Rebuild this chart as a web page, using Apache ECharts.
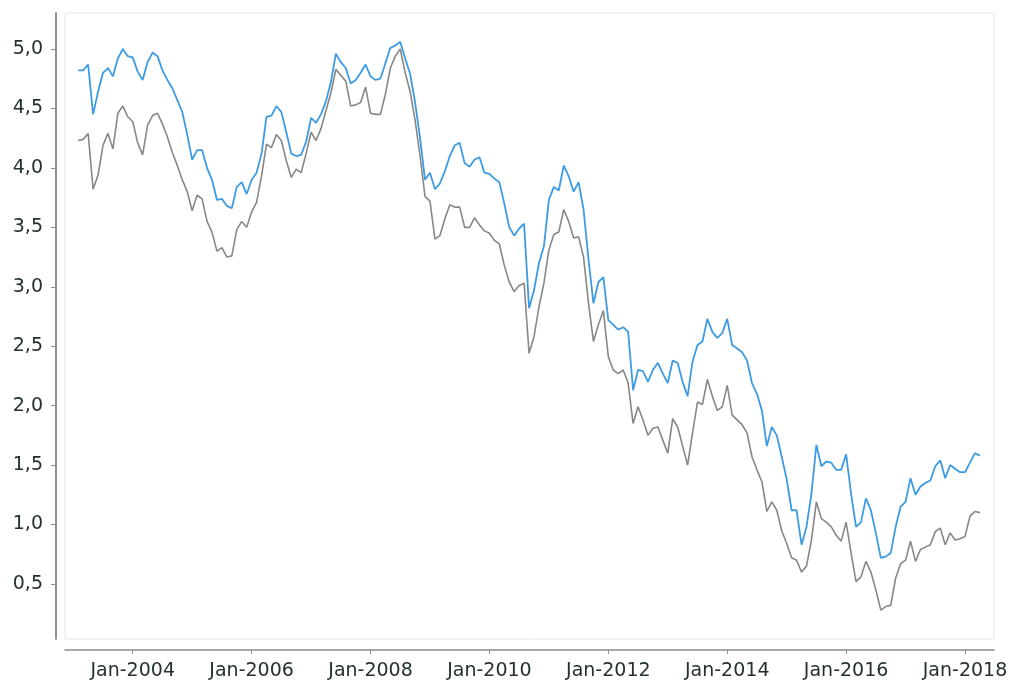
<!DOCTYPE html>
<html>
<head>
<meta charset="utf-8">
<script src="https://cdn.jsdelivr.net/npm/echarts@6/dist/echarts.min.js"></script>
<style>
html,body{margin:0;padding:0;background:#fff;}
#chart{width:1012px;height:682px;}
</style>
</head>
<body>
<div id="chart"></div>
<script>
// Monthly observations, first month = Feb 2003
var startYear = 2003, startMonth = 2;
var blueSeries = [
4.82,4.82,4.87,4.45,4.64,4.80,4.84,4.77,4.92,5.00,
4.94,4.93,4.81,4.74,4.89,4.97,4.94,4.82,4.74,4.67,
4.57,4.47,4.28,4.07,4.15,4.15,4.00,3.90,3.73,3.74,
3.68,3.66,3.84,3.88,3.78,3.90,3.96,4.12,4.43,4.44,
4.52,4.47,4.30,4.12,4.10,4.11,4.22,4.42,4.38,4.45,
4.56,4.72,4.96,4.89,4.84,4.71,4.74,4.80,4.87,4.77,
4.74,4.75,4.88,5.01,5.03,5.06,4.92,4.79,4.55,4.25,
3.90,3.96,3.82,3.87,3.97,4.10,4.19,4.21,4.04,4.01,
4.07,4.09,3.96,3.95,3.91,3.88,3.70,3.50,3.43,3.49,
3.53,2.82,2.97,3.20,3.34,3.73,3.84,3.81,4.02,3.93,
3.80,3.88,3.65,3.23,2.86,3.04,3.08,2.72,2.68,2.64,
2.66,2.62,2.13,2.30,2.29,2.20,2.30,2.36,2.27,2.19,
2.38,2.36,2.20,2.08,2.37,2.51,2.54,2.73,2.62,2.57,
2.61,2.73,2.51,2.48,2.45,2.38,2.19,2.10,1.96,1.66,
1.82,1.75,1.57,1.38,1.12,1.12,0.83,0.98,1.26,1.67,
1.49,1.53,1.52,1.46,1.46,1.59,1.26,0.98,1.02,1.22,
1.12,0.93,0.72,0.73,0.76,0.98,1.15,1.19,1.39,1.25,
1.32,1.35,1.37,1.49,1.54,1.39,1.50,1.47,1.44,1.44,
1.52,1.60,1.58
];
var graySeries = [
4.23,4.24,4.29,3.82,3.94,4.19,4.29,4.16,4.46,4.52,
4.43,4.39,4.21,4.11,4.36,4.44,4.46,4.37,4.26,4.13,
4.02,3.90,3.80,3.64,3.77,3.74,3.55,3.46,3.30,3.33,
3.25,3.26,3.48,3.55,3.50,3.63,3.71,3.93,4.20,4.17,
4.28,4.23,4.06,3.92,3.99,3.96,4.12,4.30,4.23,4.33,
4.48,4.63,4.83,4.78,4.73,4.52,4.53,4.55,4.68,4.46,
4.45,4.45,4.62,4.84,4.94,5.00,4.80,4.64,4.40,4.10,
3.76,3.72,3.40,3.43,3.57,3.69,3.67,3.67,3.50,3.50,
3.58,3.52,3.47,3.45,3.39,3.36,3.18,3.04,2.96,3.01,
3.03,2.44,2.58,2.83,3.03,3.31,3.44,3.46,3.65,3.55,
3.41,3.42,3.25,2.86,2.54,2.68,2.80,2.41,2.30,2.27,
2.30,2.19,1.85,1.99,1.88,1.75,1.81,1.82,1.71,1.60,
1.89,1.82,1.66,1.50,1.77,2.03,2.01,2.22,2.08,1.96,
1.99,2.17,1.92,1.88,1.84,1.77,1.57,1.46,1.36,1.11,
1.19,1.12,0.95,0.84,0.72,0.70,0.60,0.65,0.87,1.19,
1.05,1.02,0.98,0.91,0.86,1.02,0.76,0.52,0.56,0.69,
0.60,0.45,0.28,0.31,0.32,0.55,0.67,0.70,0.86,0.69,
0.79,0.81,0.83,0.94,0.97,0.83,0.93,0.87,0.88,0.90,
1.07,1.11,1.10
];
var xTickLabels = ['Jan-2004','Jan-2006','Jan-2008','Jan-2010','Jan-2012','Jan-2014','Jan-2016','Jan-2018'];
var yTickValues = [0.5,1.0,1.5,2.0,2.5,3.0,3.5,4.0,4.5,5.0];

// month index: 0 = Jan of startYear
function monthIndex(i){ return (startMonth - 1) + i; }
function labelToIndex(s){ var y = parseInt(s.split('-')[1],10); return (y - startYear) * 12; }
var xTickValues = xTickLabels.map(labelToIndex);
function pairs(arr){ return arr.map(function(v,i){ return [monthIndex(i), v]; }); }

var chart = echarts.init(document.getElementById('chart'), null, {renderer:'canvas'});
var font = 'DejaVu Sans';
chart.setOption({
  backgroundColor:'#ffffff',
  animation:false,
  grid:{left:65,right:18,top:13,bottom:43,show:true,borderColor:'#dfe5ee',borderWidth:1,backgroundColor:'#ffffff'},
  xAxis:{
    type:'value', min:-1.67, max:185.85, offset:11,
    axisLine:{show:true,onZero:false,lineStyle:{color:'#8c8c8c',width:1.5}},
    axisTick:{show:true,length:4,customValues:xTickValues,lineStyle:{color:'#8c8c8c'}},
    axisLabel:{customValues:xTickValues,margin:12,fontFamily:font,fontSize:19,color:'#253030',
      formatter:function(v){ return 'Jan-' + (startYear + Math.round(v/12)); }},
    splitLine:{show:false}
  },
  yAxis:{
    type:'value', min:0.037, max:5.303, offset:9,
    axisLine:{show:true,onZero:false,lineStyle:{color:'#6a6a6a',width:1.5}},
    axisTick:{show:true,length:5,customValues:yTickValues,lineStyle:{color:'#8c8c8c'}},
    axisLabel:{customValues:yTickValues,margin:13,fontFamily:font,fontSize:19,color:'#253030',
      formatter:function(v){ return v.toFixed(1).replace('.', ','); }},
    splitLine:{show:false}
  },
  series:[
    {type:'line',name:'gray',data:pairs(graySeries),showSymbol:false,
     lineStyle:{color:'#878787',width:1.6},itemStyle:{color:'#878787'}},
    {type:'line',name:'blue',data:pairs(blueSeries),showSymbol:false,
     lineStyle:{color:'#3d9be3',width:1.8},itemStyle:{color:'#3d9be3'}}
  ]
});
</script>
</body>
</html>
